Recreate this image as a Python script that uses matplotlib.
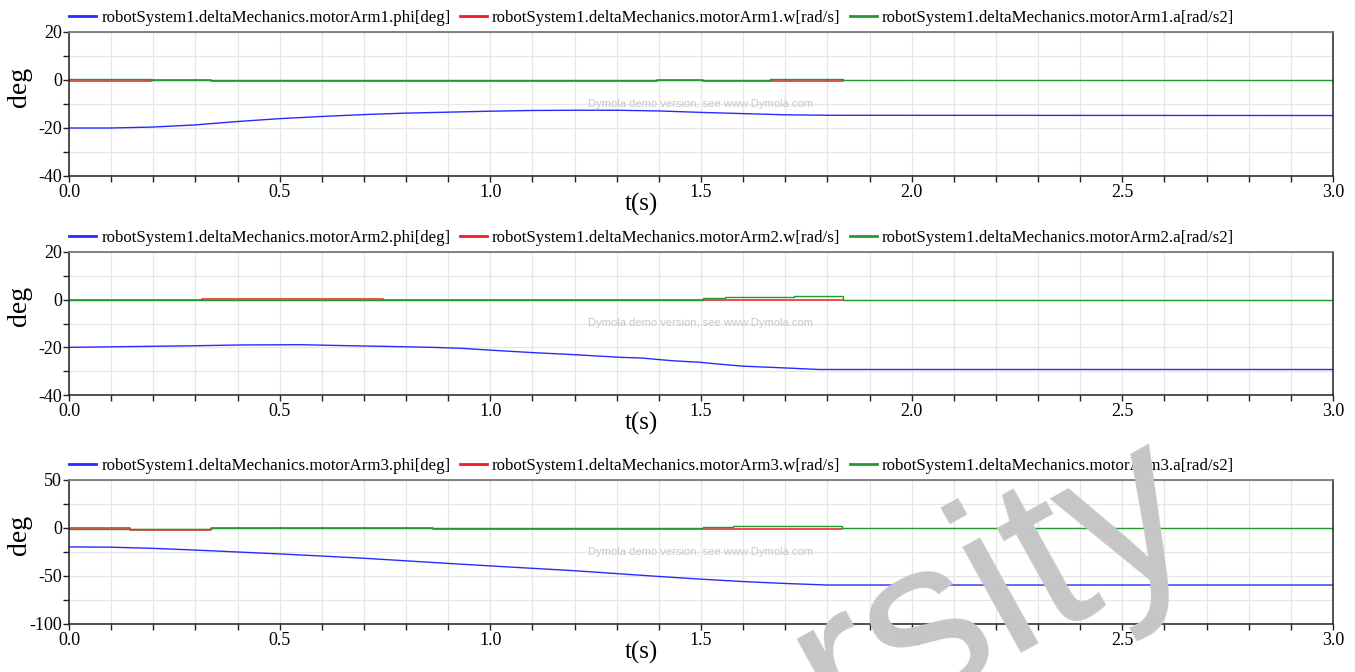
import numpy as np
import matplotlib
matplotlib.use("Agg")
import matplotlib.pyplot as plt
from matplotlib.ticker import MultipleLocator, FormatStrFormatter

# ===== data =====
t_phi1 = [0, 0.1, 0.2, 0.3, 0.4, 0.5, 0.6, 0.7, 0.8, 0.9, 1.0, 1.1, 1.2, 1.3, 1.4, 1.5, 1.6, 1.7, 1.8, 3.0]
phi1 = [-20.0, -20.0, -19.6, -18.7, -17.3, -16.1, -15.2, -14.4, -13.8, -13.4, -13.0, -12.7, -12.6, -12.6,
        -12.9, -13.5, -14.0, -14.5, -14.7, -14.8]
t_w1 = [0, 0.197, 0.337, 1.396, 1.505, 1.683, 1.837]
w1 = [-0.4, -0.1, -0.3, 0.0, -0.3, -0.3, -0.3]
t_a1 = [0, 0.197, 0.337, 1.396, 1.505, 1.664, 1.837, 3.0]
a1 = [0.4, 0.0, -0.2, 0.0, 0.1, 0.5, 0.0, 0.0]

t_phi2 = [0, 0.135, 0.275, 0.41, 0.55, 0.66, 0.78, 0.86, 0.93, 1.03, 1.11, 1.18, 1.25, 1.31, 1.36, 1.43,
          1.50, 1.54, 1.60, 1.64, 1.72, 1.78, 3.0]
phi2 = [-20.0, -19.7, -19.4, -19.0, -18.9, -19.3, -19.7, -20.0, -20.4, -21.5, -22.3, -22.9, -23.6, -24.2,
        -24.5, -25.6, -26.3, -27.0, -27.9, -28.2, -28.8, -29.3, -29.3]
t_w2 = [0, 0.316, 0.745, 1.505, 1.787, 1.837]
w2 = [0.0, 0.3, 0.0, -0.3, 0.0, 0.0]
t_a2 = [0, 1.505, 1.557, 1.72, 1.837, 3.0]
a2 = [0.0, 0.5, 1.0, 1.5, 0.0, 0.0]

t_phi3 = [0, 0.1, 0.2, 0.3, 0.4, 0.5, 0.6, 0.7, 0.8, 0.9, 1.0, 1.1, 1.2, 1.3, 1.4, 1.5, 1.6, 1.7, 1.8, 3.0]
phi3 = [-19.7, -20.0, -21.2, -23.0, -25.0, -27.0, -29.2, -31.5, -34.2, -36.9, -39.5, -42.0, -44.5, -47.5,
        -50.5, -53.3, -55.8, -57.8, -59.4, -59.4]
t_w3 = [0, 0.145, 0.337, 0.864, 1.505, 1.754, 1.835]
w3 = [0.5, -1.8, -0.5, -1.2, -1.5, -0.8, -0.8]
t_a3 = [0, 0.337, 1.505, 1.576, 1.835, 3.0]
a3 = [-1.2, -0.3, 1.0, 2.0, 0.0, 0.0]

arms = ["1", "2", "3"]
ylims = [(-40, 20), (-40, 20), (-100, 50)]
ymajor = [20, 20, 50]
yminor = [10, 10, 25]

# ===== layout =====
W, H = 1355, 672
plt.rcParams["font.family"] = ["Liberation Serif", "DejaVu Serif"]
plt.rcParams["axes.unicode_minus"] = False
fig = plt.figure(figsize=(W / 100, H / 100), dpi=100)

boxes = [(32, 176), (252, 395), (480, 624)]  # pixel top/bottom of each panel
left, right = 69, 1333

series = [
    (t_phi1, phi1, t_w1, w1, t_a1, a1),
    (t_phi2, phi2, t_w2, w2, t_a2, a2),
    (t_phi3, phi3, t_w3, w3, t_a3, a3),
]

blue, red, green = "#2a2aff", "#ee1c24", "#1e9a2e"

for i, (top, bot) in enumerate(boxes):
    ax = fig.add_axes([left / W, 1 - bot / H, (right - left) / W, (bot - top) / H])
    tp, p, tw, w, ta, a = series[i]
    ax.plot(tp, p, color=blue, lw=1.0, label=f"robotSystem1.deltaMechanics.motorArm{arms[i]}.phi[deg]")
    ax.step(tw, w, where="post", color=red, lw=1.1, label=f"robotSystem1.deltaMechanics.motorArm{arms[i]}.w[rad/s]")
    ax.step(ta, a, where="post", color=green, lw=1.0, label=f"robotSystem1.deltaMechanics.motorArm{arms[i]}.a[rad/s2]")

    ax.set_xlim(0, 3.0)
    ax.set_ylim(*ylims[i])
    ax.xaxis.set_major_locator(MultipleLocator(0.5))
    ax.xaxis.set_minor_locator(MultipleLocator(0.1))
    ax.yaxis.set_major_locator(MultipleLocator(ymajor[i]))
    ax.yaxis.set_minor_locator(MultipleLocator(yminor[i]))
    ax.xaxis.set_major_formatter(FormatStrFormatter("%.1f"))
    ax.grid(True, which="both", color="#e6e6e6", lw=0.9)
    ax.set_axisbelow(True)
    ax.tick_params(which="both", direction="out", length=4, width=1, labelsize=13, pad=2, colors="#222222")
    ax.tick_params(axis="x", labelcolor="black")
    ax.tick_params(axis="y", labelcolor="black", pad=1)
    for s in ["left", "bottom", "right"]:
        ax.spines[s].set_color("#222222")
        ax.spines[s].set_linewidth(1.1)
    ax.spines["top"].set_color("#777777")
    ax.spines["top"].set_linewidth(1.3)

    ax.set_ylabel("deg", fontsize=20)
    ax.yaxis.set_label_coords(-0.029, 0.62)
    ax.set_xlabel("t(s)", fontsize=18)
    ax.xaxis.set_label_coords(0.4525, -0.115)

    ax.text(0.5, 0.5, "Dymola demo version, see www.Dymola.com", transform=ax.transAxes,
            ha="center", va="center", fontsize=8.1, color="#c8c8c8", family="Liberation Sans")

    leg = ax.legend(loc="lower left", bbox_to_anchor=(0, 1.04), ncol=3, frameon=False,
                    borderaxespad=0.0, borderpad=0, fontsize=12.2, handlelength=1.6,
                    handletextpad=0.3, columnspacing=0.55)
    for line in leg.get_lines():
        line.set_linewidth(2.0)

# big grey watermark fragment in the lower right
fig.text(840 / W, 1 - 745 / H, "rsity", rotation=29, rotation_mode="anchor", ha="left", va="baseline",
         fontsize=165, color="#c6c6c6", family="Liberation Sans", zorder=10)

fig.savefig("out.png", dpi=100)
